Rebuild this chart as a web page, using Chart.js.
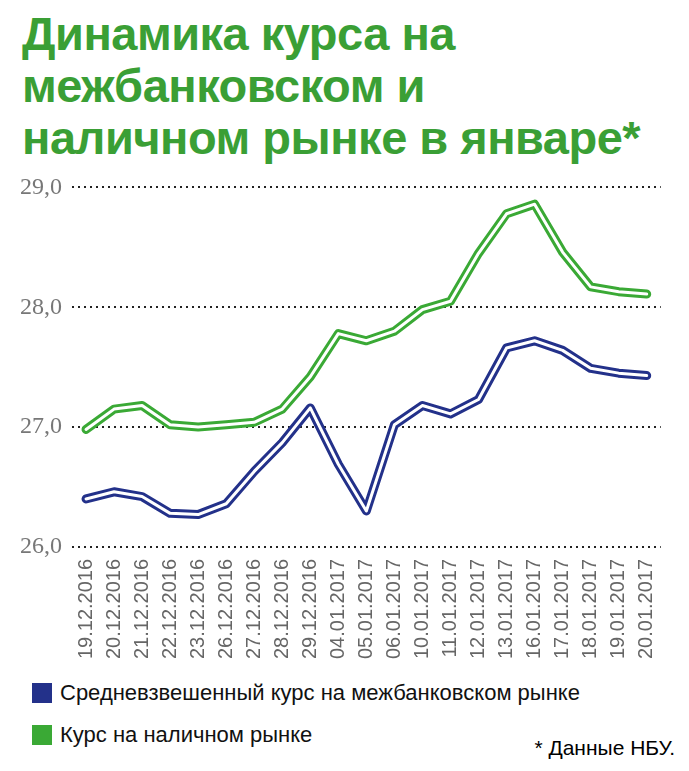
<!DOCTYPE html>
<html><head><meta charset="utf-8">
<script src="https://cdn.jsdelivr.net/npm/chart.js@4"></script>
<style>
body{margin:0;background:#fff;font-family:"Liberation Sans Narrow","Liberation Sans",Arial,sans-serif;width:689px;height:771px;overflow:hidden;position:relative}
h1{margin:0;position:absolute;left:22px;top:8px;font-size:47px;line-height:52px;color:#3a9f35;font-weight:bold;letter-spacing:-0.5px}
#wrap{position:absolute;left:10px;top:163px;width:665px;height:500px}
.leg{position:absolute;left:32px;font-size:22px;color:#111;display:flex;align-items:center;font-family:"Liberation Sans",Arial,sans-serif}
.sq{width:20px;height:20px;margin-right:8px}
</style></head><body>
<h1>Динамика курса на<br>межбанковском и<br>наличном рынке в январе*</h1>
<div id="wrap"><canvas id="c"></canvas></div>
<div class="leg" style="top:680px"><div class="sq" style="background:#23318a"></div>Средневзвешенный курс на межбанковском рынке</div>
<div class="leg" style="top:722px"><div class="sq" style="background:#3aa935"></div>Курс на наличном рынке</div>
<div style="position:absolute;right:14px;top:736px;font-size:21px;font-family:'Liberation Sans',Arial,sans-serif">* Данные НБУ.</div>
<script>
const labels=["19.12.2016","20.12.2016","21.12.2016","22.12.2016","23.12.2016","26.12.2016","27.12.2016","28.12.2016","29.12.2016","04.01.2017","05.01.2017","06.01.2017","10.01.2017","11.01.2017","12.01.2017","13.01.2017","16.01.2017","17.01.2017","18.01.2017","19.01.2017","20.01.2017"];
const interbank=[26.40,26.46,26.42,26.28,26.27,26.36,26.63,26.87,27.16,26.69,26.30,27.02,27.18,27.11,27.23,27.66,27.72,27.64,27.49,27.45,27.43];
const cash=[26.98,27.15,27.18,27.02,27.00,27.02,27.04,27.15,27.42,27.78,27.72,27.80,27.98,28.05,28.45,28.78,28.86,28.46,28.17,28.13,28.11];
const yTicks=[26,27,28,29];
const ds=(d,c,w)=>({data:d,borderColor:c,borderWidth:w,pointRadius:0,tension:0,fill:false,borderJoinStyle:'round',borderCapStyle:'round'});
new Chart(document.getElementById('c'),{type:'line',
data:{labels,datasets:[ds(cash,'#fff',3),ds(cash,'#3aa935',9),ds(interbank,'#fff',3),ds(interbank,'#23318a',9)]},
options:{responsive:true,maintainAspectRatio:false,animation:false,
plugins:{legend:{display:false},tooltip:{enabled:false}},
layout:{padding:{top:18,right:12}},
scales:{
x:{offset:true,grid:{display:false},border:{display:false},ticks:{color:'#666',font:{size:20,family:'Liberation Sans'},maxRotation:90,minRotation:90,autoSkip:false,padding:4}},
y:{min:26,max:29,afterBuildTicks:a=>{a.ticks=yTicks.map(v=>({value:v}));},border:{display:false,dash:[2,4]},
grid:{color:'#222',lineWidth:2,drawTicks:false},
ticks:{color:'#777',font:{size:24,family:'Liberation Sans Narrow'},padding:10,callback:v=>v.toFixed(1).replace('.',',')}}}}});
</script></body></html>
